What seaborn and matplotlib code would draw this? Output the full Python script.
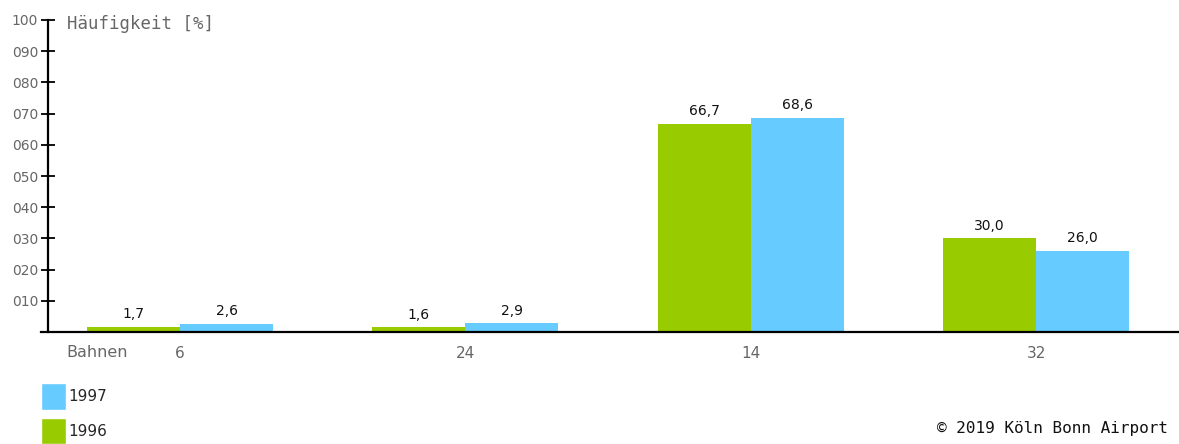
import pandas as pd
import seaborn as sns
import matplotlib.pyplot as plt
from matplotlib.patches import Patch

# Daten
bahnen = ['6', '24', '14', '32']
werte_1996 = [1.7, 1.6, 66.7, 30.0]
werte_1997 = [2.6, 2.9, 68.6, 26.0]
jahre = ['1996', '1997']
farben = {'1996': '#99CC00', '1997': '#66CCFF'}

df = pd.DataFrame({
    'Bahn': bahnen * 2,
    'Jahr': ['1996'] * len(bahnen) + ['1997'] * len(bahnen),
    'Wert': werte_1996 + werte_1997,
})

sns.set_theme(style="white")
plt.rcParams['font.family'] = ['DejaVu Sans']

fig = plt.figure(figsize=(11.79, 4.44), dpi=100)
ax = fig.add_axes([0.0407, 0.252, 0.9593, 0.703])

sns.barplot(data=df, x='Bahn', y='Wert', hue='Jahr', hue_order=jahre,
            order=bahnen, palette=farben, width=0.652, gap=0,
            saturation=1, errorbar=None, ax=ax, legend=False, linewidth=0)

for cont in ax.containers:
    ax.bar_label(cont, labels=[f"{b.get_height():.1f}".replace('.', ',') for b in cont],
                 padding=4, fontsize=10, color='#111111')

ax.set_xlim(-0.463, 3.501)
ax.set_ylim(0, 100)
ax.set_yticks(range(10, 101, 10))
ax.set_yticklabels([f"{v:03d}" for v in range(10, 101, 10)], color='#666666', fontsize=10)
ax.tick_params(axis='y', direction='inout', length=10, width=1.3, color='black', pad=2, left=True)
ax.tick_params(axis='x', length=0, pad=10, labelsize=11, labelcolor='#666666')
ax.set_xlabel('')
ax.set_ylabel('')

for s in ['top', 'right']:
    ax.spines[s].set_visible(False)
ax.spines['left'].set_color('black')
ax.spines['left'].set_linewidth(1.6)
ax.spines['bottom'].set_color('black')
ax.spines['bottom'].set_linewidth(1.6)
ax.spines['bottom'].set_bounds(-0.486, 3.501)
ax.spines['bottom'].set_zorder(5)

fig.text(0.057, 0.947, 'Häufigkeit [%]', family='DejaVu Sans Mono', fontsize=12.5,
         color='#666666', va='center', ha='left')
fig.text(0.056, 0.205, 'Bahnen', fontsize=11.5, color='#666666', va='center', ha='left')
fig.text(0.991, 0.035, '© 2019 Köln Bonn Airport', family='DejaVu Sans Mono', fontsize=11.5,
         color='#111111', va='center', ha='right')

handles = [Patch(facecolor=farben['1997'], label='1997'),
           Patch(facecolor=farben['1996'], label='1996')]
fig.legend(handles=handles, loc='lower left', bbox_to_anchor=(0.035, 0.0),
           frameon=False, fontsize=11, handlelength=1.6, handleheight=2.25,
           handletextpad=0.2, labelspacing=0.55, borderaxespad=0, borderpad=0)

fig.savefig('out.png', dpi=100)
